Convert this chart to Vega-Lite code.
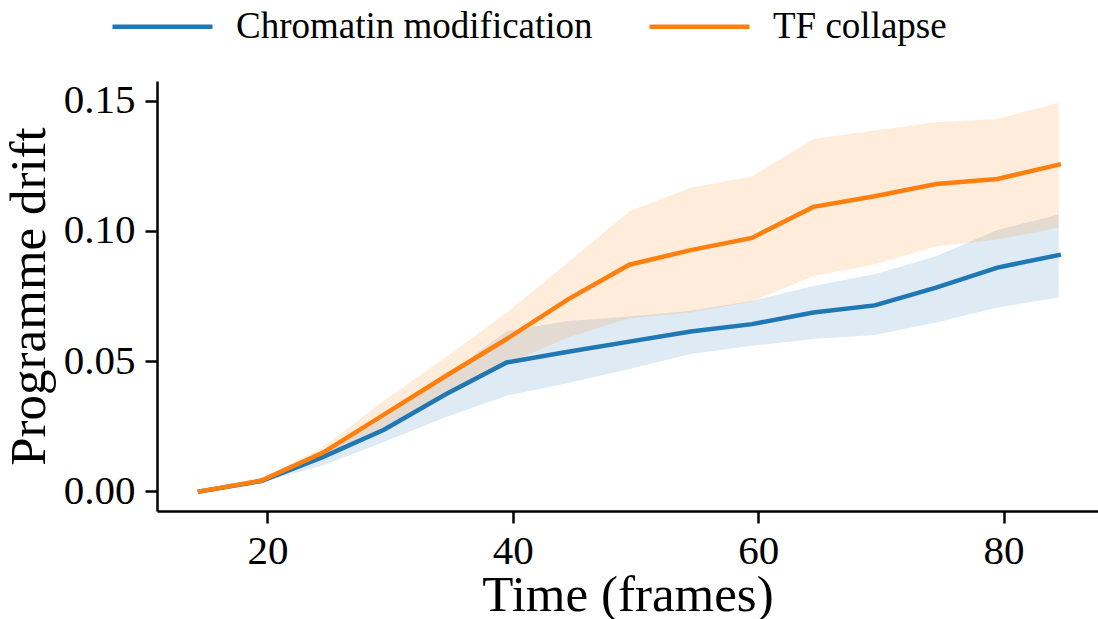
{
  "$schema": "https://vega.github.io/schema/vega-lite/v6.json",
  "autosize": {"type": "none"},
  "width": 941,
  "height": 430,
  "padding": {"left": 157, "top": 81, "right": 0, "bottom": 108},
  "background": "white",
  "config": {
    "view": {"stroke": null},
    "font": "Liberation Serif",
    "axis": {
      "domainColor": "black",
      "domainWidth": 2.5,
      "tickColor": "black",
      "tickWidth": 2.5,
      "tickSize": 12,
      "labelColor": "black",
      "labelFont": "Liberation Serif",
      "labelFontSize": 41,
      "titleFont": "Liberation Serif",
      "titleFontSize": 51,
      "titleFontWeight": "normal",
      "titleColor": "black",
      "grid": false
    },
    "legend": {
      "orient": "none",
      "legendX": -47,
      "legendY": -107,
      "direction": "horizontal",
      "title": null,
      "padding": 0,
      "symbolType": "stroke",
      "symbolSize": 10000,
      "symbolStrokeWidth": 4.5,
      "symbolOpacity": 1,
      "labelFont": "Liberation Serif",
      "labelFontSize": 37,
      "labelColor": "black",
      "labelOffset": 21,
      "columnPadding": 47,
      "labelLimit": 0
    }
  },
  "data": {
    "values": [
      {"series": "Chromatin modification", "t": 14.5, "mean": 0.0, "lo": 0.0, "hi": 0.0},
      {"series": "Chromatin modification", "t": 19.5, "mean": 0.004, "lo": 0.0035, "hi": 0.0045},
      {"series": "Chromatin modification", "t": 24.5, "mean": 0.0132, "lo": 0.010, "hi": 0.015},
      {"series": "Chromatin modification", "t": 29.5, "mean": 0.0237, "lo": 0.019, "hi": 0.028},
      {"series": "Chromatin modification", "t": 34.5, "mean": 0.0372, "lo": 0.0285, "hi": 0.044},
      {"series": "Chromatin modification", "t": 39.5, "mean": 0.0495, "lo": 0.0367, "hi": 0.0616},
      {"series": "Chromatin modification", "t": 44.5, "mean": 0.0536, "lo": 0.0416, "hi": 0.0654},
      {"series": "Chromatin modification", "t": 49.5, "mean": 0.0575, "lo": 0.047, "hi": 0.0671},
      {"series": "Chromatin modification", "t": 54.5, "mean": 0.0614, "lo": 0.0527, "hi": 0.0693},
      {"series": "Chromatin modification", "t": 59.5, "mean": 0.0642, "lo": 0.0559, "hi": 0.0731},
      {"series": "Chromatin modification", "t": 64.5, "mean": 0.0687, "lo": 0.0585, "hi": 0.0788},
      {"series": "Chromatin modification", "t": 69.5, "mean": 0.0714, "lo": 0.060, "hi": 0.0833},
      {"series": "Chromatin modification", "t": 74.5, "mean": 0.0782, "lo": 0.0648, "hi": 0.0903},
      {"series": "Chromatin modification", "t": 79.5, "mean": 0.0859, "lo": 0.0706, "hi": 0.1003},
      {"series": "Chromatin modification", "t": 84.5, "mean": 0.0907, "lo": 0.0744, "hi": 0.1063},
      {"series": "TF collapse", "t": 14.5, "mean": 0.0, "lo": 0.0, "hi": 0.0},
      {"series": "TF collapse", "t": 19.5, "mean": 0.0042, "lo": 0.0036, "hi": 0.0048},
      {"series": "TF collapse", "t": 24.5, "mean": 0.0148, "lo": 0.013, "hi": 0.017},
      {"series": "TF collapse", "t": 29.5, "mean": 0.0295, "lo": 0.024, "hi": 0.0348},
      {"series": "TF collapse", "t": 34.5, "mean": 0.0442, "lo": 0.037, "hi": 0.0514},
      {"series": "TF collapse", "t": 39.5, "mean": 0.0585, "lo": 0.049, "hi": 0.0686},
      {"series": "TF collapse", "t": 44.5, "mean": 0.0737, "lo": 0.0591, "hi": 0.0879},
      {"series": "TF collapse", "t": 49.5, "mean": 0.087, "lo": 0.0665, "hi": 0.1075},
      {"series": "TF collapse", "t": 54.5, "mean": 0.0926, "lo": 0.0687, "hi": 0.1165},
      {"series": "TF collapse", "t": 59.5, "mean": 0.0973, "lo": 0.0729, "hi": 0.1209},
      {"series": "TF collapse", "t": 64.5, "mean": 0.1092, "lo": 0.0827, "hi": 0.1352},
      {"series": "TF collapse", "t": 69.5, "mean": 0.1133, "lo": 0.0871, "hi": 0.1385},
      {"series": "TF collapse", "t": 74.5, "mean": 0.118, "lo": 0.0941, "hi": 0.1417},
      {"series": "TF collapse", "t": 79.5, "mean": 0.1199, "lo": 0.0967, "hi": 0.1429},
      {"series": "TF collapse", "t": 84.5, "mean": 0.1254, "lo": 0.1012, "hi": 0.1492}
    ]
  },
  "encoding": {
    "x": {
      "field": "t",
      "type": "quantitative",
      "title": "Time (frames)",
      "scale": {"domain": [11, 87.7], "nice": false, "zero": false},
      "axis": {"values": [20, 40, 60, 80], "labelPadding": 8, "titlePadding": -1}
    },
    "color": {
      "field": "series",
      "type": "nominal",
      "scale": {"domain": ["Chromatin modification", "TF collapse"], "range": ["#1f77b4", "#ff7f0e"]}
    }
  },
  "layer": [
    {
      "mark": {"type": "area", "opacity": 0.15},
      "encoding": {
        "y": {
          "field": "lo",
          "type": "quantitative",
          "title": "Programme drift",
          "scale": {"domain": [-0.0075, 0.1575], "nice": false, "zero": false},
          "axis": {"values": [0, 0.05, 0.1, 0.15], "format": ".2f", "labelPadding": 10, "titlePadding": 8}
        },
        "y2": {"field": "hi"}
      }
    },
    {
      "mark": {"type": "line", "strokeWidth": 4.5, "strokeCap": "square"},
      "encoding": {
        "y": {"field": "mean", "type": "quantitative"}
      }
    }
  ]
}
